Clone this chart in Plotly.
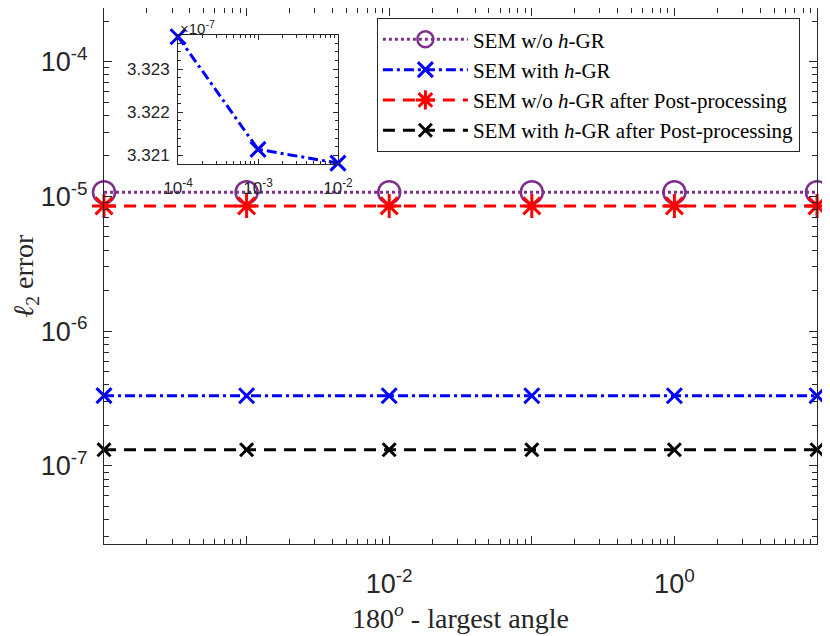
import plotly.graph_objects as go

# x values: 180 deg minus largest angle
angle_gap = [1e-4, 1e-3, 1e-2, 1e-1, 1e0, 1e1]

# l2 errors per method
sem_no_hgr = [1.074e-5, 1.074e-5, 1.074e-5, 1.074e-5, 1.074e-5, 1.074e-5]
sem_hgr = [3.32375e-7, 3.32114e-7, 3.32082e-7, 3.32081e-7, 3.32081e-7, 3.32081e-7]
sem_no_hgr_pp = [8.5e-6, 8.5e-6, 8.5e-6, 8.5e-6, 8.5e-6, 8.5e-6]
sem_hgr_pp = [1.32e-7, 1.32e-7, 1.32e-7, 1.32e-7, 1.32e-7, 1.32e-7]

names = ["SEM w/o <i>h</i>-GR", "SEM with <i>h</i>-GR",
         "SEM w/o <i>h</i>-GR after Post-processing",
         "SEM with <i>h</i>-GR after Post-processing"]

x_tickvals = [1e-4, 1e-3, 1e-2, 1e-1, 1e0, 1e1]
x_ticktext = ["", "", "10<sup>-2</sup>", "", "10<sup>0</sup>", ""]
y_tickvals = [1e-7, 1e-6, 1e-5, 1e-4]
y_ticktext = ["10<sup>-7</sup>", "10<sup>-6</sup>", "10<sup>-5</sup>", "10<sup>-4</sup>"]

inset_x = angle_gap[:3]
inset_y = sem_hgr[:3]
inset_ytickvals = [3.321e-7, 3.322e-7, 3.323e-7]
inset_yticktext = ["3.321", "3.322", "3.323"]
inset_xtickvals = [1e-4, 1e-3, 1e-2]
inset_xticktext = ["10<sup>-4</sup>", "10<sup>-3</sup>", "10<sup>-2</sup>"]

axcol = "#262626"
sans = "Liberation Sans"
serif = "Liberation Serif"

fig = go.Figure()

fig.add_trace(go.Scatter(
    x=angle_gap, y=sem_no_hgr, name=names[0], mode="lines+markers", cliponaxis=False,
    line=dict(color="#7E2F8E", width=3, dash="3px,3px"),
    marker=dict(symbol="circle-open", size=22, color="#7E2F8E", line=dict(width=2.5, color="#7E2F8E"))))

fig.add_trace(go.Scatter(
    x=angle_gap, y=sem_hgr, name=names[1], mode="lines+markers", cliponaxis=False,
    line=dict(color="#0000FF", width=3, dash="10px,4px,3px,4px"),
    marker=dict(symbol="x-thin-open", size=15, color="#0000FF", line=dict(width=3, color="#0000FF"))))

fig.add_trace(go.Scatter(
    x=angle_gap, y=sem_no_hgr_pp, name=names[2], mode="lines+markers", cliponaxis=False,
    line=dict(color="#FF0000", width=3, dash="12px,8px"),
    marker=dict(symbol="asterisk-open", size=20, color="#FF0000", line=dict(width=3, color="#FF0000"))))

fig.add_trace(go.Scatter(
    x=angle_gap, y=sem_hgr_pp, name=names[3], mode="lines+markers", cliponaxis=False,
    line=dict(color="#000000", width=3, dash="12px,8px"),
    marker=dict(symbol="x-thin-open", size=13, color="#000000", line=dict(width=3, color="#000000"))))

# inset
fig.add_trace(go.Scatter(
    x=inset_x, y=inset_y, xaxis="x2", yaxis="y2", showlegend=False, mode="lines+markers",
    cliponaxis=False,
    line=dict(color="#0000FF", width=3, dash="10px,4px,3px,4px"),
    marker=dict(symbol="x-thin-open", size=15, color="#0000FF", line=dict(width=3, color="#0000FF"))))

# page body has an 8px margin, so the figure is a bit smaller than the window
fig.update_layout(
    width=822, height=628,
    margin=dict(l=96, r=13, t=0, b=92),
    paper_bgcolor="white", plot_bgcolor="white",
    showlegend=True,
    legend=dict(x=0.976, y=0.981, xanchor="right", yanchor="top",
                bgcolor="white", bordercolor=axcol, borderwidth=1,
                font=dict(family=serif, size=21, color="#000000"),
                itemwidth=85, tracegroupgap=0),
    xaxis=dict(type="log", range=[-4, 1], domain=[0, 1], automargin=False,
               tickmode="array", tickvals=x_tickvals, ticktext=x_ticktext,
               ticks="inside", ticklen=8, tickcolor=axcol, tickwidth=1,
               minor=dict(ticks="inside", ticklen=5, dtick="D1", tickcolor=axcol, showgrid=False),
               showgrid=False, zeroline=False, showline=True, linecolor=axcol, linewidth=1,
               mirror="ticks", tickfont=dict(family=sans, size=27, color=axcol),
               ticklabelstandoff=16,
               title=dict(text="180<sup><i>o</i></sup> - largest angle", standoff=4,
                          font=dict(family=serif, size=28, color=axcol))),
    yaxis=dict(type="log", range=[-7.579, -3.602], domain=[0, 1], automargin=False,
               tickmode="array", tickvals=y_tickvals, ticktext=y_ticktext,
               ticks="inside", ticklen=8, tickcolor=axcol, tickwidth=1,
               minor=dict(ticks="inside", ticklen=5, dtick="D1", tickcolor=axcol, showgrid=False),
               showgrid=False, zeroline=False, showline=True, linecolor=axcol, linewidth=1,
               mirror="ticks", tickfont=dict(family=sans, size=27, color=axcol),
               ticklabelstandoff=10,
               title=dict(text="<i>ℓ</i><sub>2</sub> error", standoff=15,
                          font=dict(family=serif, size=28, color=axcol))),
    xaxis2=dict(type="log", range=[-4.0005, -1.9995], domain=[0.1038, 0.3282], anchor="y2",
                automargin=False,
                tickmode="array", tickvals=inset_xtickvals, ticktext=inset_xticktext,
                ticks="inside", ticklen=5, tickcolor=axcol,
                minor=dict(ticks="inside", ticklen=3, dtick="D1", tickcolor=axcol, showgrid=False),
                showgrid=False, zeroline=False, showline=True, linecolor=axcol, linewidth=1,
                mirror="ticks", tickfont=dict(family=sans, size=17, color=axcol),
                ticklabelstandoff=9),
    yaxis2=dict(range=[3.32080e-7, 3.32379e-7], domain=[0.709, 0.9496], anchor="x2",
                automargin=False,
                tickmode="array", tickvals=inset_ytickvals, ticktext=inset_yticktext,
                ticks="inside", ticklen=5, tickcolor=axcol,
                minor=dict(ticks="inside", ticklen=3, dtick=2e-11, tickcolor=axcol, showgrid=False),
                showgrid=False, zeroline=False, showline=True, linecolor=axcol, linewidth=1,
                mirror="ticks", tickfont=dict(family=sans, size=17, color=axcol),
                ticklabelstandoff=4),
)

fig.add_annotation(xref="x2 domain", yref="y2 domain", x=0.0, y=1.0,
                   xanchor="left", yanchor="bottom", showarrow=False, yshift=-4,
                   text="×10<sup>-7</sup>", font=dict(family=sans, size=15, color=axcol))

fig.write_html("out.html")
